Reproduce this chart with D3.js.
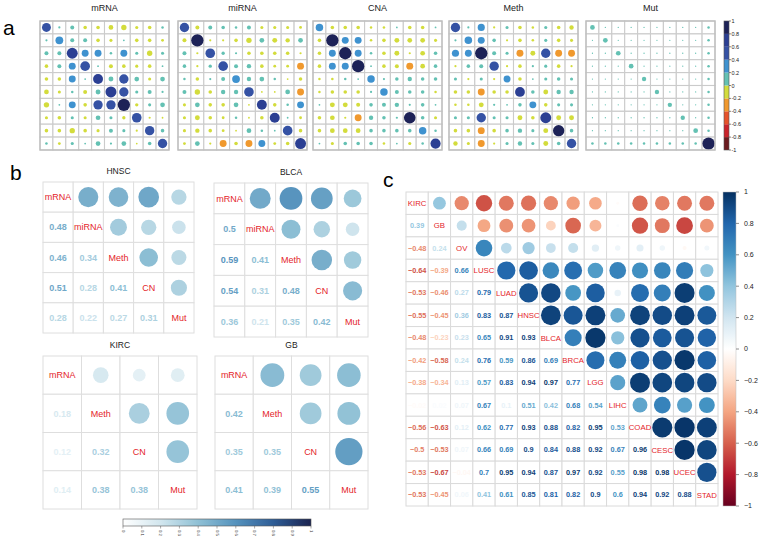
<!DOCTYPE html>
<html><head><meta charset="utf-8">
<script src="https://cdn.jsdelivr.net/npm/d3@7"></script>
<style>body{margin:0;background:#fff}svg{font-family:"Liberation Sans",Arial,sans-serif}</style>
</head><body><svg id="chart" width="760" height="540"></svg>
<script>
// ---------- Panel a data (symmetric 10x10, lower triangle incl. diagonal) ----------
const omicsTitles = ["mRNA", "miRNA", "CNA", "Meth", "Mut"];
const mRNA = [
  [0.5],
  [0.03, 0.38],
  [0.1, 0.1, 0.75],
  [-0.08, 0.1, 0.3, 0.58],
  [-0.08, -0.08, 0.3, 0.02, 0.62],
  [-0.14, -0.06, 0.04, -0.1, 0.15, 0.75],
  [-0.18, 0.02, 0.3, -0.08, 0.55, 0.55, 0.95],
  [-0.06, -0.08, 0.06, -0.06, 0.14, 0.06, -0.07, 0.58],
  [-0.08, -0.08, -0.18, -0.08, -0.06, 0.1, 0.06, -0.03, 0.55],
  [0.04, -0.05, 0.06, 0.02, 0.14, 0.03, 0.14, -0.02, 0.08, 0.55]
];
const miRNA = [
  [0.55],
  [-0.1, 0.95],
  [0.1, -0.03, 0.58],
  [0.08, -0.03, 0.07, 0.58],
  [0.04, -0.08, 0.03, 0.1, 0.38],
  [0.1, -0.18, -0.08, 0.12, 0.12, 0.58],
  [-0.06, 0.14, -0.08, -0.08, 0.14, -0.02, 0.62],
  [-0.06, -0.15, -0.08, -0.05, 0.04, -0.02, -0.08, 0.62],
  [-0.06, -0.12, -0.08, -0.05, -0.02, 0.14, 0.04, 0.02, 0.58],
  [-0.05, 0.14, -0.03, -0.3, -0.08, -0.3, 0.3, -0.05, -0.08, 0.75]
];
const CNA = [
  [0.35],
  [-0.08, 0.95],
  [-0.08, 0.3, 0.95],
  [-0.08, 0.3, 0.3, 0.95],
  [-0.04, -0.04, 0.04, 0.02, 0.35],
  [-0.04, -0.08, -0.08, -0.08, 0.03, 0.35],
  [0.02, -0.15, -0.15, -0.1, 0.08, 0.1, 0.12],
  [-0.08, -0.14, -0.03, -0.3, 0.12, 0.08, 0.03, 0.85],
  [-0.08, -0.14, -0.14, -0.14, 0.08, 0.08, 0.08, 0.08, 0.35],
  [0.02, -0.06, 0.08, 0.08, 0.08, -0.04, 0.02, -0.06, 0.04, 0.65]
];
const Meth = [
  [0.55],
  [0.03, 0.35],
  [0.32, 0.3, 0.95],
  [-0.03, 0.08, 0.1, 0.55],
  [0.06, -0.03, 0.06, -0.03, 0.3],
  [-0.08, -0.08, -0.3, -0.08, -0.08, 0.6],
  [-0.04, -0.04, -0.15, 0.03, 0.02, 0.08, 0.3],
  [0.06, 0.06, 0.55, 0.06, 0.06, -0.15, -0.08, 0.75],
  [-0.08, -0.08, -0.3, -0.08, 0.08, 0.12, 0.06, -0.15, 0.8],
  [-0.12, -0.06, -0.3, -0.03, 0.06, 0.12, 0.06, -0.15, 0.08, 0.55]
];
const Mut = [
  [0.14],
  [0.01, 0.14],
  [0.01, 0.01, 0.14],
  [0.01, 0.01, 0.01, 0.14],
  [0.01, 0.01, 0.01, 0.01, 0.12],
  [0.01, 0.01, 0.01, 0.01, 0.01, 0.12],
  [0.01, 0.01, 0.01, 0.01, 0.01, 0.01, 0.12],
  [0.01, 0.01, 0.01, 0.01, 0.01, 0.01, 0.01, 0.12],
  [0.01, 0.01, 0.01, 0.01, 0.01, 0.01, 0.01, 0.01, 0.14],
  [0.04, 0.04, 0.04, 0.04, 0.04, 0.04, 0.04, 0.04, 0.04, 0.95]
];
const colorbarATicks = [1, 0.8, 0.6, 0.4, 0.2, 0, -0.2, -0.4, -0.6, -0.8, -1];
const paletteA = ["#6b1b1f", "#c9232b", "#e5522b", "#f0992e", "#d3dc3c", "#64c1b3", "#3f92cf", "#3552a4", "#2b3f93", "#1d2257"];

// ---------- Panel b data ----------
const hnscLabels = ["mRNA", "miRNA", "Meth", "CN", "Mut"];
const hnscValues = [[0.48], [0.46, 0.34], [0.51, 0.28, 0.41], [0.28, 0.22, 0.27, 0.31]];
const blcaLabels = ["mRNA", "miRNA", "Meth", "CN", "Mut"];
const blcaValues = [[0.5], [0.59, 0.41], [0.54, 0.31, 0.48], [0.36, 0.21, 0.35, 0.42]];
const kircLabels = ["mRNA", "Meth", "CN", "Mut"];
const kircValues = [[0.18], [0.12, 0.32], [0.14, 0.38, 0.38]];
const gbLabels = ["mRNA", "Meth", "CN", "Mut"];
const gbValues = [[0.42], [0.35, 0.35], [0.41, 0.39, 0.55]];
const colorbarBTicks = [0, 0.1, 0.2, 0.3, 0.4, 0.5, 0.6, 0.7, 0.8, 0.9, 1];
const paletteB = ["#ffffff", "#d2e6ee", "#8fc0d5", "#5592bd", "#2e5d96", "#1a2350"];

// ---------- Panel c data ----------
const cancers = ["KIRC", "GB", "OV", "LUSC", "LUAD", "HNSC", "BLCA", "BRCA", "LGG", "LIHC", "COAD", "CESC", "UCEC", "STAD"];
const cancerCorr = [
  [0.39],
  [-0.48, 0.24],
  [-0.64, -0.39, 0.66],
  [-0.53, -0.46, 0.27, 0.79],
  [-0.55, -0.45, 0.36, 0.83, 0.87],
  [-0.48, -0.23, 0.23, 0.65, 0.91, 0.93],
  [-0.42, -0.58, 0.24, 0.76, 0.59, 0.86, 0.69],
  [-0.38, -0.34, 0.13, 0.57, 0.83, 0.94, 0.97, 0.77],
  [-0.02, 0.02, 0.07, 0.67, 0.1, 0.51, 0.42, 0.68, 0.54],
  [-0.56, -0.63, 0.12, 0.62, 0.77, 0.93, 0.88, 0.82, 0.95, 0.53],
  [-0.5, -0.53, 0.07, 0.66, 0.69, 0.9, 0.84, 0.88, 0.92, 0.67, 0.96],
  [-0.53, -0.67, -0.04, 0.7, 0.95, 0.94, 0.87, 0.97, 0.92, 0.55, 0.98, 0.98],
  [-0.53, -0.45, 0.06, 0.41, 0.61, 0.85, 0.81, 0.82, 0.9, 0.6, 0.94, 0.92, 0.88]
];
const colorbarCTicks = [1, 0.8, 0.6, 0.4, 0.2, 0, -0.2, -0.4, -0.6, -0.8, -1];
const paletteC = ["#67001F", "#B2182B", "#D6604D", "#F4A582", "#FDDBC7", "#FFFFFF", "#D1E5F0", "#92C5DE", "#4393C3", "#2166AC", "#053061"];

// ---------- drawing ----------
const svg = d3.select("#chart");
const fmt = v => String(v).replace("-", "\u2212");

// Panel a
const colorA = d3.scaleQuantize().domain([-1, 1]).range(paletteA);
const panelAX = [40, 178, 313, 449, 586];
const matsA = [mRNA, miRNA, CNA, Meth, Mut];
svg.append("text").attr("x", 3).attr("y", 35).attr("font-size", 21).text("a");
matsA.forEach((lower, k) => {
  const n = lower.length, x0 = panelAX[k], y0 = 21, size = 129;
  const full = d3.range(n).map(i => d3.range(n).map(j => i >= j ? lower[i][j] : lower[j][i]));
  const bx = d3.scaleBand().domain(d3.range(n)).range([x0, x0 + size]);
  const by = d3.scaleBand().domain(d3.range(n)).range([y0, y0 + size]);
  const rs = d3.scaleSqrt().domain([0, 1]).range([0, bx.bandwidth() * 0.49]);
  const g = svg.append("g");
  g.append("text").attr("x", x0 + size / 2).attr("y", 11).attr("text-anchor", "middle")
    .attr("font-size", 9).attr("fill", "#222").text(omicsTitles[k]);
  const cells = [];
  full.forEach((row, i) => row.forEach((v, j) => cells.push({i, j, v})));
  g.selectAll("rect.c").data(cells).join("rect")
    .attr("x", d => bx(d.j)).attr("y", d => by(d.i))
    .attr("width", bx.bandwidth()).attr("height", by.bandwidth())
    .attr("fill", "#fff").attr("stroke", "#cbcbcb").attr("stroke-width", 1.1);
  g.selectAll("circle").data(cells).join("circle")
    .attr("cx", d => bx(d.j) + bx.bandwidth() / 2).attr("cy", d => by(d.i) + by.bandwidth() / 2)
    .attr("r", d => rs(Math.abs(d.v))).attr("fill", d => colorA(d.v));
  g.append("rect").attr("x", x0).attr("y", y0).attr("width", size).attr("height", size)
    .attr("fill", "none").attr("stroke", "#bdbdbd").attr("stroke-width", 1.3);
});
// Panel a colorbar
{
  const cy = d3.scaleLinear().domain([1, -1]).range([21, 150]);
  const g = svg.append("g");
  const bins = d3.range(10).map(i => -1 + i * 0.2);
  g.selectAll("rect").data(bins).join("rect")
    .attr("x", 724).attr("y", d => cy(d + 0.2)).attr("width", 5)
    .attr("height", d => cy(d) - cy(d + 0.2)).attr("fill", d => colorA(d + 0.1));
  g.append("rect").attr("x", 724).attr("y", 21).attr("width", 5).attr("height", 129)
    .attr("fill", "none").attr("stroke", "#555").attr("stroke-width", 0.6);
  g.selectAll("line").data(colorbarATicks).join("line")
    .attr("x1", 729).attr("x2", 731).attr("y1", d => cy(d)).attr("y2", d => cy(d))
    .attr("stroke", "#333").attr("stroke-width", 0.6);
  g.selectAll("text").data(colorbarATicks).join("text")
    .attr("x", 731.5).attr("y", d => cy(d) + 2).attr("font-size", 5.5).attr("fill", "#222")
    .text(d => d);
}

// Panel b
const colorB = d3.scaleLinear().domain([0, 0.2, 0.4, 0.6, 0.8, 1]).range(paletteB);
svg.append("text").attr("x", 10).attr("y", 180).attr("font-size", 21).text("b");
svg.append("text").attr("x", 383).attr("y", 187).attr("font-size", 21).text("c");

function mixed(labels, lower, x0, y0, w, h, colorFn, opts) {
  const n = labels.length;
  const bx = d3.scaleBand().domain(d3.range(n)).range([x0, x0 + w]);
  const by = d3.scaleBand().domain(d3.range(n)).range([y0, y0 + h]);
  const rs = d3.scaleSqrt().domain([0, 1]).range([0, Math.min(bx.bandwidth(), by.bandwidth()) * opts.rf]);
  const cells = [];
  for (let i = 0; i < n; i++) for (let j = 0; j < n; j++) {
    const v = i === j ? null : (i > j ? lower[i - 1][j] : lower[j - 1][i]);
    cells.push({i, j, v});
  }
  const g = svg.append("g");
  if (opts.title) g.append("text").attr("x", x0 + w / 2).attr("y", y0 - 8).attr("text-anchor", "middle")
    .attr("font-size", 8.5).attr("fill", "#222").text(opts.title);
  g.selectAll("rect").data(cells).join("rect")
    .attr("x", d => bx(d.j)).attr("y", d => by(d.i))
    .attr("width", bx.bandwidth()).attr("height", by.bandwidth())
    .attr("fill", "#fff").attr("stroke", opts.grid).attr("stroke-width", 1);
  g.selectAll("circle").data(cells.filter(d => d.j > d.i)).join("circle")
    .attr("cx", d => bx(d.j) + bx.bandwidth() / 2).attr("cy", d => by(d.i) + by.bandwidth() / 2)
    .attr("r", d => rs(Math.abs(d.v))).attr("fill", d => colorFn(d.v));
  g.selectAll("text.num").data(cells.filter(d => d.j < d.i)).join("text").attr("class", "num")
    .attr("x", d => bx(d.j) + bx.bandwidth() / 2).attr("y", d => by(d.i) + by.bandwidth() / 2)
    .attr("dy", "0.35em").attr("text-anchor", "middle").attr("font-size", opts.fs)
    .attr("font-weight", "bold").attr("fill", d => colorFn(d.v)).text(d => fmt(d.v));
  g.selectAll("text.lab").data(cells.filter(d => d.j === d.i)).join("text").attr("class", "lab")
    .attr("x", d => bx(d.j) + bx.bandwidth() / 2).attr("y", d => by(d.i) + by.bandwidth() / 2)
    .attr("dy", "0.35em").attr("text-anchor", "middle").attr("font-size", opts.ls)
    .attr("fill", "#e4252b").text(d => labels[d.i]);
}
const optB = {rf: 0.48, fs: 9, ls: 9, grid: "#dedede"};
mixed(hnscLabels, hnscValues, 43, 182, 151, 151, colorB, {...optB, title: "HNSC"});
mixed(blcaLabels, blcaValues, 214, 183, 154, 154, colorB, {...optB, title: "BLCA"});
mixed(kircLabels, kircValues, 43, 356, 154, 153, colorB, {...optB, title: "KIRC"});
mixed(gbLabels, gbValues, 215, 356, 153, 153, colorB, {...optB, title: "GB"});

// Panel b colorbar
{
  const cx = d3.scaleLinear().domain([0, 1]).range([123, 311]);
  const defs = svg.append("defs");
  const grad = defs.append("linearGradient").attr("id", "gb");
  d3.range(0, 1.001, 0.05).forEach(t => grad.append("stop").attr("offset", t).attr("stop-color", colorB(t)));
  svg.append("rect").attr("x", 123).attr("y", 519).attr("width", 188).attr("height", 7)
    .attr("fill", "url(#gb)").attr("stroke", "#555").attr("stroke-width", 0.6);
  const g = svg.append("g");
  g.selectAll("line").data(colorbarBTicks).join("line")
    .attr("x1", d => cx(d)).attr("x2", d => cx(d)).attr("y1", 526).attr("y2", 528.5)
    .attr("stroke", "#555").attr("stroke-width", 0.5);
  g.selectAll("text").data(colorbarBTicks).join("text")
    .attr("transform", d => `translate(${cx(d) - 1.2},530) rotate(90)`)
    .attr("font-size", 4.2).attr("fill", "#333").text(d => d);
}

// Panel c
const colorC = d3.scaleLinear().domain(d3.range(11).map(i => -1 + i * 0.2)).range(paletteC);
mixed(cancers, cancerCorr, 406, 192, 312, 314, colorC, {rf: 0.46, fs: 7.3, ls: 7.8, grid: "#dadada"});
{
  const cy = d3.scaleLinear().domain([1, -1]).range([192, 506]);
  const defs = svg.append("defs");
  const grad = defs.append("linearGradient").attr("id", "gc").attr("x1", 0).attr("y1", 0).attr("x2", 0).attr("y2", 1);
  d3.range(0, 1.001, 0.025).forEach(t => grad.append("stop").attr("offset", t).attr("stop-color", colorC(1 - 2 * t)));
  svg.append("rect").attr("x", 723).attr("y", 192).attr("width", 13).attr("height", 314)
    .attr("fill", "url(#gc)").attr("stroke", "#bbb").attr("stroke-width", 0.5);
  const g = svg.append("g");
  g.selectAll("line").data(colorbarCTicks).join("line")
    .attr("x1", 736).attr("x2", 739).attr("y1", d => cy(d)).attr("y2", d => cy(d))
    .attr("stroke", "#444").attr("stroke-width", 0.6);
  g.selectAll("text").data(colorbarCTicks).join("text")
    .attr("x", 744).attr("y", d => cy(d)).attr("dy", "0.35em").attr("font-size", 7)
    .attr("fill", "#222").text(d => fmt(d));
}
</script></body></html>
